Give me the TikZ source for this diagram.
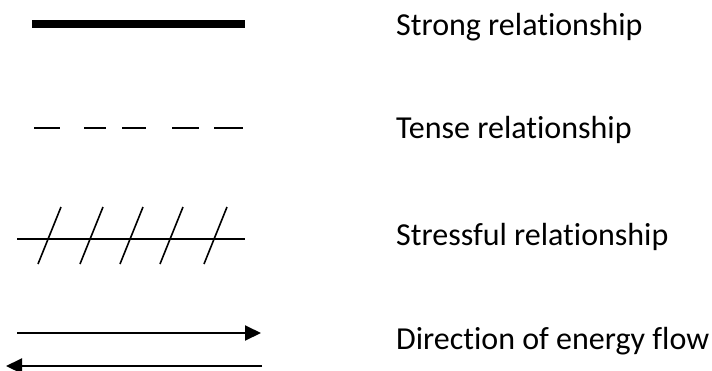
\documentclass[tikz,border=0pt]{standalone}
\usepackage{fontspec}
\setmainfont{Carlito}[Ligatures=NoCommon]
\usetikzlibrary{arrows.meta}
\tikzset{
  legendtext/.style={anchor=base west,inner sep=0pt,font=\fontsize{32}{38}\selectfont},
  strongline/.style={line width=8pt},
  tenseline/.style={line width=2pt},
  stressline/.style={line width=1.6pt},
  flowline/.style={line width=2pt,-{Triangle[length=16pt,width=15pt]}},
}

\begin{document}
\begin{tikzpicture}[x=1pt,y=-1pt]
  % --- Definitions ---
  \def\txtX{396}  % left edge of the labels
  \useasboundingbox (0,0) rectangle (712,370);

  % --- 1. Strong relationship ---
  \coordinate (strongA) at (32,24);
  \coordinate (strongB) at (245,24);
  \draw[strongline] (strongA) -- (strongB);
  \node[legendtext] (strongLbl) at (\txtX,35) {Strong relationship};

  % --- 2. Tense relationship ---
  % single dashes, spacing is uneven
  \foreach \a/\b in {34/60, 84/106, 122/146, 172/199, 214/243} {%
    \draw[tenseline] (\a,128) -- (\b,128);
  }
  \node[legendtext] (tenseLbl) at (\txtX,138) {Tense relationship};

  % --- 3. Stressful relationship ---
  \coordinate (stressA) at (17,239);
  \coordinate (stressB) at (245,239);
  \draw[stressline] (stressA) -- (stressB);
  \foreach \x in {38, 80, 120, 160, 204} {%
    \draw[stressline] (\x,264) -- (\x+23,207);
  }
  \node[legendtext] (stressLbl) at (\txtX,245) {Stressful relationship};

  % --- 4. Direction of energy flow ---
  \coordinate (flowR1) at (17,333);
  \coordinate (flowR2) at (261,333);
  \coordinate (flowL1) at (262,366);
  \coordinate (flowL2) at (6,366);
  \draw[flowline] (flowR1) -- (flowR2);
  \draw[flowline] (flowL1) -- (flowL2);
  \node[legendtext] (flowLbl) at (\txtX,349) {Direction of energy flow};

\end{tikzpicture}
\end{document}
